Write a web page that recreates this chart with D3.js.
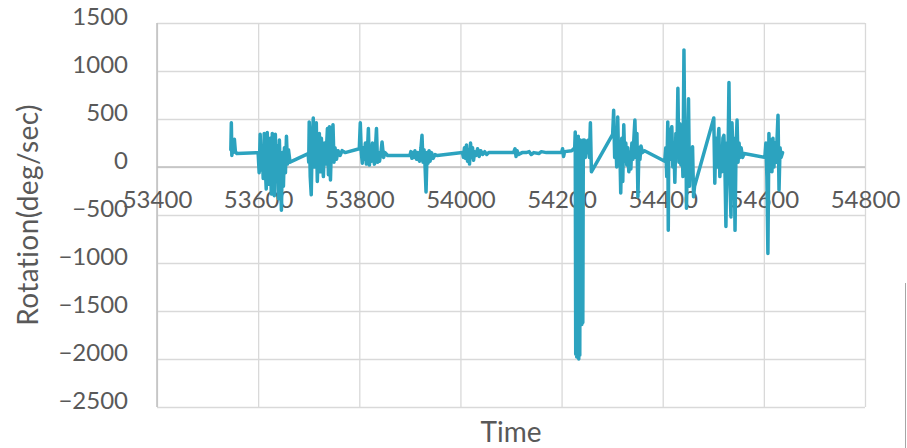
<!DOCTYPE html>
<html>
<head>
<meta charset="utf-8">
<script src="https://cdn.jsdelivr.net/npm/d3@7"></script>
<style>
  body { margin: 0; background: #fff; }
  svg text { font-family: Lato, "Open Sans", sans-serif; fill: #595959; }
</style>
</head>
<body>
<div id="chart"></div>
<script>
// data
const timeValues = [
  53546, 53547, 53548, 53549, 53551, 53553, 53555, 53558,
  53600, 53602, 53604, 53606, 53608, 53610, 53612, 53614, 53616, 53618, 53620, 53622, 53624, 53626, 53628, 53630,
  53632, 53634, 53636, 53638, 53640, 53642, 53644, 53646, 53648, 53650, 53652, 53654, 53656, 53658, 53660, 53663,
  53699, 53700, 53701, 53703, 53705, 53707, 53709, 53711, 53713, 53715, 53717, 53719, 53721, 53723, 53725, 53727,
  53729, 53731, 53733, 53735, 53737, 53739, 53741, 53743, 53745, 53748, 53750, 53752, 53755, 53758, 53762, 53766, 53772,
  53800, 53802, 53804, 53806, 53808, 53810, 53812, 53814, 53816, 53818, 53820, 53822, 53824, 53826, 53828, 53830,
  53832, 53834, 53836, 53838, 53840, 53843, 53845, 53848, 53851, 53856,
  53900, 53902, 53904, 53906, 53908, 53910, 53913, 53916, 53919, 53922, 53924, 53926, 53928, 53930, 53932, 53934,
  53936, 53938, 53940, 53943, 53946, 53950, 53954,
  54004, 54006, 54008, 54010, 54012, 54014, 54016, 54018, 54020, 54022, 54024, 54026, 54028, 54031, 54034, 54037,
  54040, 54044, 54048, 54052, 54056,
  54105, 54108, 54110, 54112, 54115, 54122, 54130, 54136, 54140, 54145, 54155, 54160, 54170,
  54200, 54202, 54204, 54206, 54220,
  54226, 54227, 54228, 54229, 54230, 54231, 54232, 54233, 54234, 54235, 54236, 54237, 54238, 54239, 54240, 54241,
  54242, 54243, 54244, 54245, 54247, 54249, 54251, 54253, 54255, 54257, 54259,
  54301, 54303, 54305, 54307, 54309, 54311, 54313, 54315, 54317, 54319, 54321, 54323, 54325, 54327, 54329, 54331,
  54333, 54335, 54337, 54339, 54341, 54343, 54345, 54347, 54349, 54351, 54353, 54355, 54357, 54360, 54364,
  54404, 54406, 54408, 54410, 54411, 54412, 54414, 54416, 54418, 54420, 54422, 54424, 54426, 54428, 54430, 54432,
  54434, 54436, 54438, 54440, 54442, 54444, 54446, 54447, 54449, 54451, 54453, 54455, 54457, 54459, 54461, 54463,
  54501, 54503, 54505, 54507, 54509, 54511, 54513, 54515, 54517, 54519, 54521, 54523, 54525, 54527, 54529, 54531,
  54533, 54535, 54537, 54539, 54541, 54543, 54545, 54547, 54549, 54551, 54553, 54555, 54558, 54561,
  54602, 54604, 54606, 54608, 54610, 54612, 54614, 54616, 54618, 54620, 54622, 54624, 54626, 54628, 54630, 54632,
  54634, 54637
];
const rotationValues = [
  180, 460, 120, 220, 150, 290, 160, 140,
  150, -60, 340, -30, 200, -120, 350, 0, -230, 360, 50, -180, 300, -280, 350, 100,
  -300, 340, -150, 220, -330, 280, -100, -450, 150, -200, 200, -60, 320, 30, 180, 50,
  140, 50, 470, -100, -290, 300, 510, 0, 250, 460, -150, 200, 350, -50, 300, 100,
  -100, 250, 30, 180, 400, -80, 420, -135, 250, 440, 50, 200, 80, 170, 120, 170, 150,
  190, 460, 150, 40, 200, 80, 250, 30, 150, 400, 20, 200, 60, 250, 100, 30,
  200, 400, 50, 150, 60, 160, 260, 100, 150, 120,
  120, 160, 90, 150, 100, 170, 80, 150, 60, 200, 330, 50, 180, 20, -260, 150,
  40, 170, 60, 150, 90, 130, 120,
  150, 100, 200, 90, 230, 60, 180, 30, 250, 100, 200, 70, 160, 120, 190, 110,
  170, 130, 160, 130, 150,
  150, 190, 110, 170, 130, 150, 150, 160, 130, 150, 140, 160, 150,
  150, 190, 110, 160, 170,
  200, 365, -1950, 300, -1980, 250, -1900, 320, -2000, 150, -1960, 280, -1600, 260, -1640, 200,
  -1620, 280, 100, 280, 100, 270, 150, 280, 100, 460, -50,
  340, 590, 100, 350, 0, 520, 50, 250, -270, 300, -150, 440, 60, 250, 20, 200,
  -50, 150, -20, 250, 80, 300, 490, 100, 350, -310, 200, 80, 220, 150, 170,
  60, 200, -100, 470, -660, 300, 80, 380, 420, 0, 250, -160, 350, 100, 820, 50,
  450, 20, 300, -100, 1220, 0, 300, -430, 200, 710, -200, 150, -100, 210, -310, -200,
  510, -170, 300, 0, 250, 400, -100, 200, -50, 300, 330, 0, -620, 250, 50, 880,
  -200, -520, 460, 100, 300, -660, 200, 490, 50, 250, 100, 200, 100, 140,
  100, 250, -100, -900, 350, 50, 280, -50, 300, 0, 250, 50, 280, 540, -240, 200,
  100, 150
];
const xTicks = [53400, 53600, 53800, 54000, 54200, 54400, 54600, 54800];
const yTicks = [-2500, -2000, -1500, -1000, -500, 0, 500, 1000, 1500];

const width = 907, height = 448;
const margin = { top: 23, right: 42, bottom: 41, left: 157 };
const innerWidth = width - margin.left - margin.right;
const innerHeight = height - margin.top - margin.bottom;

let svg = d3.select('#chart').append('svg')
    .attr('width', width)
    .attr('height', height);

let g = svg.append('g')
    .attr('transform', `translate(${margin.left},${margin.top})`);

let xScale = d3.scaleLinear().domain([53400, 54800]).range([0, innerWidth]);
let yScale = d3.scaleLinear().domain([-2500, 1500]).range([innerHeight, 0]);

// gridlines
g.append('g')
    .call(d3.axisLeft(yScale).tickValues(yTicks).tickSize(-innerWidth).tickFormat(''))
    .call(a => a.select('.domain').remove())
    .selectAll('line').attr('stroke', '#d9d9d9').attr('stroke-width', 1.3);
g.append('g')
    .attr('transform', `translate(0,${innerHeight})`)
    .call(d3.axisBottom(xScale).tickValues(xTicks).tickSize(innerHeight).tickFormat(''))
    .call(a => a.select('.domain').remove())
    .selectAll('line').attr('stroke', '#d9d9d9').attr('stroke-width', 1.3)
    .attr('y2', -innerHeight);

// axis lines (left side and zero line)
g.append('line')
    .attr('x1', 0).attr('x2', 0)
    .attr('y1', 0).attr('y2', innerHeight)
    .attr('stroke', '#bfbfbf').attr('stroke-width', 1.5);
g.append('line')
    .attr('x1', 0).attr('x2', innerWidth)
    .attr('y1', yScale(0)).attr('y2', yScale(0))
    .attr('stroke', '#bfbfbf').attr('stroke-width', 1.5);

// y tick labels
g.append('g')
    .call(d3.axisLeft(yScale).tickValues(yTicks).tickSize(0).tickPadding(29)
        .tickFormat(d => d < 0 ? '\u2212' + Math.abs(d) : d))
    .call(a => a.select('.domain').remove())
    .selectAll('text')
    .attr('font-size', 24)
    .attr('dy', '0.05em')
    .style('font-family', 'Lato, "Open Sans", sans-serif')
    .attr('fill', '#595959');

// x tick labels, hanging under the zero line
g.append('g')
    .attr('transform', `translate(0,${yScale(0)})`)
    .call(d3.axisBottom(xScale).tickValues(xTicks).tickSize(0).tickPadding(24).tickFormat(d3.format('d')))
    .call(a => a.select('.domain').remove())
    .selectAll('text')
    .attr('font-size', 24)
    .style('font-family', 'Lato, "Open Sans", sans-serif')
    .attr('fill', '#595959');

// the series
const points = timeValues.map((t, i) => [t, rotationValues[i]]);
let line = d3.line()
    .x(d => xScale(d[0]))
    .y(d => yScale(d[1]));
g.append('path')
    .datum(points)
    .attr('d', line)
    .attr('fill', 'none')
    .attr('stroke', '#2ca3bf')
    .attr('stroke-width', 3.5)
    .attr('stroke-linejoin', 'round')
    .attr('stroke-linecap', 'round');

// axis titles
svg.append('text')
    .attr('x', 511)
    .attr('y', 442)
    .attr('text-anchor', 'middle')
    .attr('font-size', 28)
    .text('Time');
svg.append('text')
    .attr('transform', 'rotate(-90)')
    .attr('x', -215)
    .attr('y', 38)
    .attr('text-anchor', 'middle')
    .attr('font-size', 28)
    .attr('letter-spacing', 0.4)
    .text('Rotation(deg/sec)');

// thin frame edge at the lower right
svg.append('line')
    .attr('x1', 905.5).attr('x2', 905.5)
    .attr('y1', 283).attr('y2', height)
    .attr('stroke', '#a6a6a6').attr('stroke-width', 1);
</script>
</body>
</html>
